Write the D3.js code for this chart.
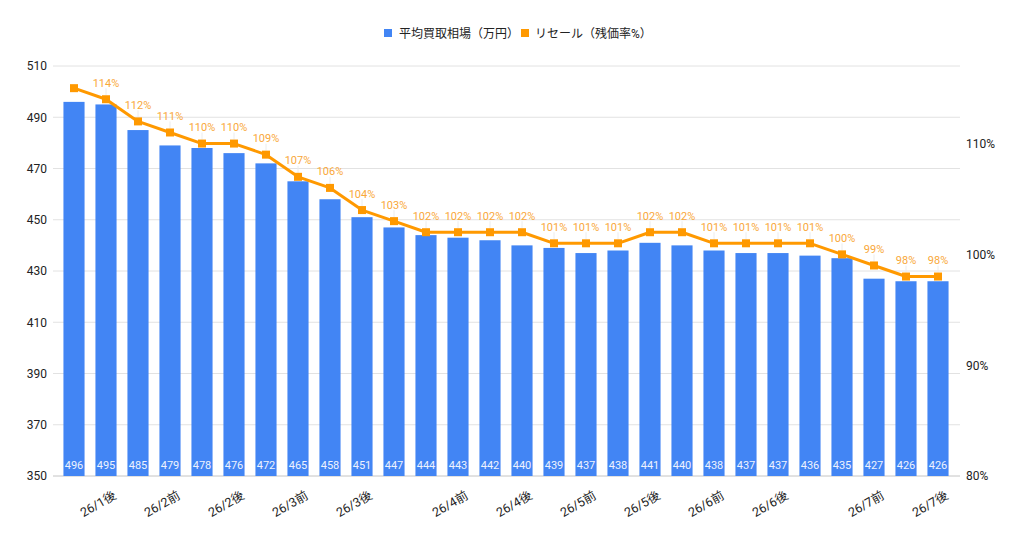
<!DOCTYPE html>
<html>
<head>
<meta charset="utf-8">
<script src="https://cdn.jsdelivr.net/npm/d3@7"></script>
<style>
  body { margin: 0; background: #fff; }
  svg text { font-family: Roboto, "Noto Sans CJK JP", sans-serif; }
</style>
</head>
<body>
<svg id="chart" width="1024" height="533"></svg>
<script>
// period labels, only every other one is printed on the axis
var periods = ["", "26/1後", "", "26/2前", "", "26/2後", "", "26/3前", "", "26/3後",
               "", "", "26/4前", "", "26/4後", "", "26/5前", "", "26/5後", "",
               "26/6前", "", "26/6後", "", "", "26/7前", "", "26/7後"];
var prices = [496, 495, 485, 479, 478, 476, 472, 465, 458, 451, 447, 444, 443, 442,
              440, 439, 437, 438, 441, 440, 438, 437, 437, 436, 435, 427, 426, 426];
var resale = [115, 114, 112, 111, 110, 110, 109, 107, 106, 104, 103, 102, 102, 102,
              102, 101, 101, 101, 102, 102, 101, 101, 101, 101, 100, 99, 98, 98];
var leftTicks = [350, 370, 390, 410, 430, 450, 470, 490, 510];
var rightTicks = [80, 90, 100, 110];

var barColor = "#4285f4", lineColor = "#ff9900";

var svg = d3.select("#chart");
var plotTop = 66, plotBottom = 476, plotLeft = 58, plotRight = 954;

var x = d3.scaleBand()
    .domain(d3.range(prices.length))
    .range([plotLeft, plotRight])
    .paddingInner(0.34)
    .paddingOuter(0.17);

var y = d3.scaleLinear().domain([350, 510]).range([plotBottom, plotTop]);
var y2 = d3.scaleLinear().domain([80, 117]).range([plotBottom, plotTop]);

function cx(i) { return x(i) + x.bandwidth() / 2; }

// gridlines
svg.append("g")
    .selectAll("line")
    .data(leftTicks)
    .enter().append("line")
    .attr("x1", 53).attr("x2", 960)
    .attr("y1", function(d) { return y(d); })
    .attr("y2", function(d) { return y(d); })
    .style("stroke", function(d) { return d == 350 ? "#c4c4c4" : "#e2e2e2"; })
    .style("stroke-width", 1);

// left axis
var yAxis = d3.axisLeft(y).tickValues(leftTicks).tickSize(0).tickPadding(0);
var gy = svg.append("g").attr("transform", "translate(47,0)").call(yAxis);
gy.select(".domain").remove();
gy.selectAll("text").style("font-size", "12px").style("fill", "#222");

// right axis
var y2Axis = d3.axisRight(y2).tickValues(rightTicks).tickSize(0).tickPadding(0)
    .tickFormat(function(d) { return d + "%"; });
var gy2 = svg.append("g").attr("transform", "translate(966,0)").call(y2Axis);
gy2.select(".domain").remove();
gy2.selectAll("text").style("font-size", "12px").style("fill", "#222");

// bars
svg.append("g")
    .selectAll("rect")
    .data(prices)
    .enter().append("rect")
    .attr("x", function(d, i) { return x(i); })
    .attr("y", function(d) { return y(d); })
    .attr("width", x.bandwidth())
    .attr("height", function(d) { return plotBottom - y(d); })
    .style("fill", barColor);

// values inside the bars
svg.append("g")
    .selectAll("text")
    .data(prices)
    .enter().append("text")
    .attr("x", function(d, i) { return cx(i); })
    .attr("y", 469)
    .attr("text-anchor", "middle")
    .style("font-size", "11px")
    .style("fill", "#eef3fe")
    .text(function(d) { return d; });

// x axis labels
var xAxis = d3.axisBottom(x).tickSize(0)
    .tickFormat(function(i) { return periods[i]; });
var gx = svg.append("g").attr("transform", "translate(0," + plotBottom + ")").call(xAxis);
gx.select(".domain").remove();
gx.selectAll("text")
    .style("font-size", "12.5px")
    .style("fill", "#222")
    .attr("text-anchor", "end")
    .attr("y", 0).attr("dy", 0)
    .attr("transform", "translate(11,22) rotate(-30)");

// leader lines for line labels
var leaders = svg.append("g");
resale.forEach(function(d, i) {
  if (i == 0) return;
  leaders.append("line")
      .attr("x1", cx(i)).attr("x2", cx(i))
      .attr("y1", y2(d) - 11).attr("y2", y2(d) - 4)
      .style("stroke", "#ececec").style("stroke-width", 1);
});

// resale line
var line = d3.line()
    .x(function(d, i) { return cx(i); })
    .y(function(d) { return y2(d); });

svg.append("path")
    .datum(resale)
    .attr("d", line)
    .style("fill", "none")
    .style("stroke", lineColor)
    .style("stroke-width", 3)
    .style("stroke-linejoin", "round");

svg.append("g")
    .selectAll("rect")
    .data(resale)
    .enter().append("rect")
    .attr("x", function(d, i) { return cx(i) - 4; })
    .attr("y", function(d) { return y2(d) - 4; })
    .attr("width", 8).attr("height", 8)
    .style("fill", lineColor);

// percentage labels (the first one is hidden in the original)
var labels = svg.append("g");
resale.forEach(function(d, i) {
  if (i == 0) return;
  labels.append("text")
      .attr("x", cx(i))
      .attr("y", y2(d) - 12.5)
      .attr("text-anchor", "middle")
      .style("font-size", "11px")
      .style("fill", "#f9a83a")
      .text(d + "%");
});

// legend
var legend = svg.append("g");
legend.append("rect").attr("x", 384).attr("y", 29).attr("width", 8).attr("height", 8).style("fill", barColor);
legend.append("text").attr("x", 399).attr("y", 37.5).style("font-size", "12px").style("fill", "#222")
    .text("平均買取相場（万円）");
legend.append("rect").attr("x", 521).attr("y", 29).attr("width", 8).attr("height", 8).style("fill", lineColor);
legend.append("text").attr("x", 535).attr("y", 37.5).style("font-size", "12px").style("fill", "#222")
    .text("リセール（残価率%）");
</script>
</body>
</html>
